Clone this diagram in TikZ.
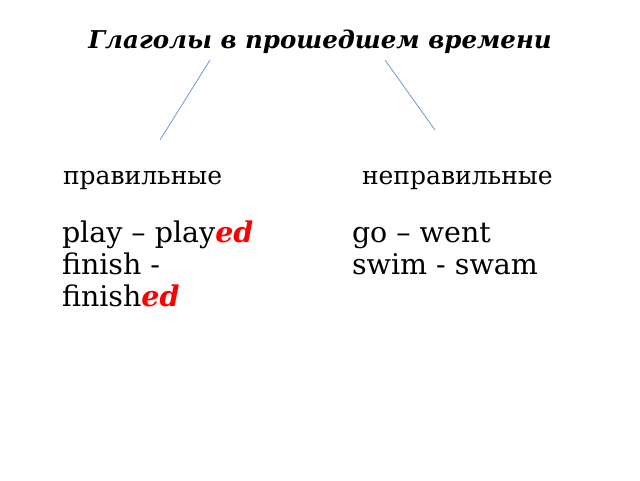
\documentclass[tikz,border=0pt]{standalone}
\usepackage{fontspec}
\setmainfont{DejaVu Serif}
\begin{document}
\begin{tikzpicture}[x=1pt,y=-1pt,
  txt/.style={anchor=base west,inner sep=0pt,outer sep=0pt},
  head/.style={font=\fontsize{25}{29}\selectfont},
  body/.style={font=\fontsize{28.5}{32}\selectfont},
  ln/.style={draw=lineblue,line width=0.8pt}]
\useasboundingbox (0,0) rectangle (640,480);
\definecolor{ednred}{RGB}{255,0,0}
\definecolor{lineblue}{RGB}{110,150,210}
\node[anchor=base,inner sep=0pt] (title) at (320,48) {\fontsize{24.5}{28}\selectfont\bfseries\itshape Глаголы в прошедшем времени};
\coordinate (l1) at (210,60);
\coordinate (l2) at (160,140);
\coordinate (r1) at (385,60);
\coordinate (r2) at (435,130);
\draw[ln] (l1) -- (l2);
\draw[ln] (r1) -- (r2);
\node[txt,head] (reg) at (63,184) {правильные};
\node[txt,head] (irr) at (362,184) {неправильные};
\node[txt,body] (p1) at (62,242) {play – play{\color{ednred}\bfseries\itshape ed}};
\node[txt,body] (p2) at (62,274) {finish -};
\node[txt,body] (p3) at (62,306) {finish{\color{ednred}\bfseries\itshape ed}};
\node[txt,body] (q1) at (352,242) {go – went};
\node[txt,body] (q2) at (352,274) {swim - swam};
\end{tikzpicture}
\end{document}
